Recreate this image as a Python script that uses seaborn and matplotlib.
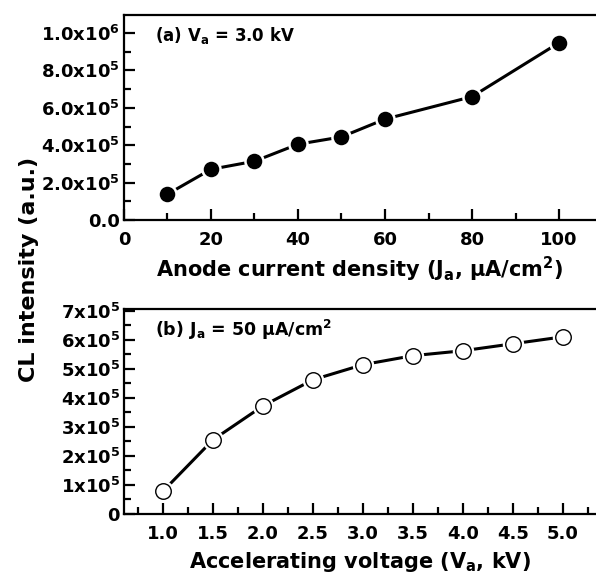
import numpy as np
import pandas as pd
import seaborn as sns
import matplotlib.pyplot as plt
from matplotlib.ticker import MultipleLocator, FixedLocator, FixedFormatter

# (a) CL intensity vs anode current density, Va = 3.0 kV
ja = [10, 20, 30, 40, 50, 60, 80, 100]
cl_a = [1.39e5, 2.72e5, 3.15e5, 4.06e5, 4.45e5, 5.40e5, 6.60e5, 9.48e5]
ya_ticks = [0, 2e5, 4e5, 6e5, 8e5, 1e6]
ya_labels = ['0.0', r'2.0x10$^{5}$', r'4.0x10$^{5}$', r'6.0x10$^{5}$', r'8.0x10$^{5}$', r'1.0x10$^{6}$']

# (b) CL intensity vs accelerating voltage, Ja = 50 uA/cm2
va = [1.0, 1.5, 2.0, 2.5, 3.0, 3.5, 4.0, 4.5, 5.0]
cl_b = [0.78e5, 2.55e5, 3.72e5, 4.62e5, 5.14e5, 5.45e5, 5.62e5, 5.86e5, 6.10e5]
yb_ticks = [0, 1e5, 2e5, 3e5, 4e5, 5e5, 6e5, 7e5]
yb_labels = ['0'] + [r'%dx10$^{5}$' % i for i in range(1, 8)]

df_a = pd.DataFrame({'ja': ja, 'cl': cl_a})
df_b = pd.DataFrame({'va': va, 'cl': cl_b})

sns.set_theme(style='ticks')
plt.rcParams['font.family'] = ['DejaVu Sans']
plt.rcParams['font.weight'] = 'bold'
plt.rcParams['text.color'] = 'black'
plt.rcParams['axes.labelcolor'] = 'black'
plt.rcParams['xtick.color'] = 'black'
plt.rcParams['ytick.color'] = 'black'
plt.rcParams['mathtext.fontset'] = 'custom'
plt.rcParams['mathtext.rm'] = 'DejaVu Sans:bold'
plt.rcParams['mathtext.bf'] = 'DejaVu Sans:bold'
plt.rcParams['mathtext.it'] = 'DejaVu Sans:bold'

fig = plt.figure(figsize=(5.96, 5.78), dpi=100)
ax1 = fig.add_axes([0.208, 0.619, 0.792, 0.355])
ax2 = fig.add_axes([0.208, 0.111, 0.792, 0.354])


def style(ax):
    for s in ['left', 'top', 'bottom']:
        ax.spines[s].set_linewidth(1.6)
        ax.spines[s].set_color('black')
    ax.spines['right'].set_visible(False)
    ax.tick_params(which='major', direction='in', length=8, width=1.6,
                   labelsize=13, colors='black', pad=3)
    ax.tick_params(which='minor', direction='in', length=5, width=1.6)
    ax.tick_params(axis='y', which='both', right=False)
    ax.tick_params(axis='x', which='both', top=False, pad=8)
    for lab in ax.get_xticklabels() + ax.get_yticklabels():
        lab.set_fontweight('bold')


# panel a
sns.lineplot(data=df_a, x='ja', y='cl', ax=ax1, color='black', lw=2.2)
sns.scatterplot(data=df_a, x='ja', y='cl', ax=ax1, s=220, color='white',
                edgecolor='white', linewidth=0, zorder=3)
sns.scatterplot(data=df_a, x='ja', y='cl', ax=ax1, s=125, color='black',
                edgecolor='black', linewidth=0, zorder=4)
ax1.set_xlim(0, 108.5)
ax1.set_ylim(0, 1.096e6)
ax1.xaxis.set_major_locator(MultipleLocator(20))
ax1.xaxis.set_minor_locator(MultipleLocator(10))
ax1.yaxis.set_major_locator(FixedLocator(ya_ticks))
ax1.yaxis.set_major_formatter(FixedFormatter(ya_labels))
ax1.yaxis.set_minor_locator(MultipleLocator(1e5))
ax1.set_xlabel(r'Anode current density (J$_{\mathregular{a}}$, μA/cm$^{2}$)',
               fontsize=15, fontweight='bold', labelpad=4)
ax1.set_ylabel('')
ax1.text(0.065, 0.9, r'(a) V$_{\mathregular{a}}$ = 3.0 kV', transform=ax1.transAxes,
         fontsize=12, fontweight='bold', va='center')
style(ax1)

# panel b
sns.lineplot(data=df_b, x='va', y='cl', ax=ax2, color='black', lw=2.2)
sns.scatterplot(data=df_b, x='va', y='cl', ax=ax2, s=240, color='white',
                edgecolor='white', linewidth=0, zorder=3)
sns.scatterplot(data=df_b, x='va', y='cl', ax=ax2, s=125, color='white',
                edgecolor='black', linewidth=1.0, zorder=4)
ax2.set_xlim(0.61, 5.33)
ax2.set_ylim(0, 7.05e5)
ax2.xaxis.set_major_locator(MultipleLocator(0.5))
ax2.xaxis.set_minor_locator(MultipleLocator(0.25))
ax2.xaxis.set_major_formatter(plt.FuncFormatter(lambda v, p: '%.1f' % v))
ax2.yaxis.set_major_locator(FixedLocator(yb_ticks))
ax2.yaxis.set_major_formatter(FixedFormatter(yb_labels))
ax2.yaxis.set_minor_locator(MultipleLocator(0.5e5))
ax2.set_xlabel(r'Accelerating voltage (V$_{\mathregular{a}}$, kV)',
               fontsize=15, fontweight='bold', labelpad=5)
ax2.set_ylabel('')
ax2.text(0.065, 0.9, r'(b) J$_{\mathregular{a}}$ = 50 μA/cm$^{2}$', transform=ax2.transAxes,
         fontsize=12.5, fontweight='bold', va='center')
style(ax2)

fig.text(0.048, 0.533, 'CL intensity (a.u.)', rotation=90, fontsize=16,
         fontweight='bold', ha='center', va='center')

fig.savefig('out.png', dpi=100)
